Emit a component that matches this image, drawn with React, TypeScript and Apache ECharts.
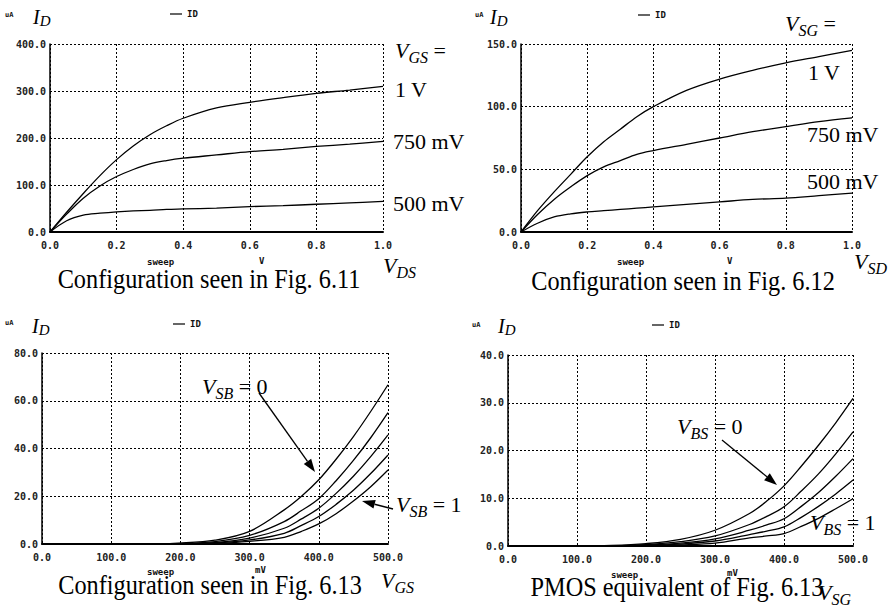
import React, { useEffect, useRef } from "react";
import * as echarts from "echarts";

// ---------- data ----------
const vdsSweep = [0, 0.05, 0.1, 0.15, 0.2, 0.25, 0.3, 0.35, 0.4, 0.5, 0.6, 0.7, 0.8, 0.9, 1.0];
const nmosId1V = [0, 42, 82, 120, 154, 183, 207, 226, 242, 264, 276, 286, 295, 302, 310];
const nmosId750 = [0, 38, 72, 98, 118, 133, 145, 152, 157, 164, 171, 176, 182, 187, 193];
const nmosId500 = [0, 24, 36, 40, 43, 45, 46, 48, 49, 51, 54, 56, 59, 62, 65];

const pmosId1V = [0, 17, 32, 46, 60, 72, 82, 92, 100, 113, 122, 129, 135, 140, 145];
const pmosId750 = [0, 14, 26, 36, 45, 52, 57, 62, 65, 70, 75, 80, 84, 88, 91];
const pmosId500 = [0, 7, 12, 14.5, 16, 17, 18, 19, 20, 22, 24, 26, 27, 29, 31];

const vgsSweep = [0, 100, 150, 200, 250, 300, 350, 375, 400, 425, 450, 475, 500];
const nmosVsb = [
  [0, 0, 0.1, 0.4, 1.6, 5.3, 14.3, 20, 26.9, 35.5, 45, 55.5, 66.7],
  [0, 0, 0.05, 0.2, 1.0, 3.6, 9.4, 14, 19, 26.5, 35, 44.5, 55],
  [0, 0, 0.03, 0.12, 0.6, 2.5, 6.6, 10.5, 15, 21.2, 28.4, 36.6, 45.7],
  [0, 0, 0.02, 0.08, 0.4, 1.7, 4.5, 7.8, 11.5, 16.6, 22.5, 29.5, 37.3],
  [0, 0, 0.01, 0.05, 0.25, 1.1, 2.8, 5.3, 8.4, 12.7, 18, 24, 31],
];
const pmosVbs = [
  [0, 0, 0.1, 0.5, 1.4, 3.3, 6.8, 9.4, 12.6, 16.7, 21.1, 25.8, 30.9],
  [0, 0, 0.05, 0.3, 0.9, 2.1, 4.5, 6.2, 8.2, 11.5, 15.1, 19.3, 23.9],
  [0, 0, 0.03, 0.2, 0.6, 1.5, 3.3, 4.4, 5.7, 8.3, 11.2, 14.6, 18.3],
  [0, 0, 0.02, 0.12, 0.4, 1.05, 2.4, 3.1, 4.0, 6.0, 8.3, 10.9, 13.8],
  [0, 0, 0.01, 0.08, 0.25, 0.6, 1.7, 2.1, 2.6, 4.1, 5.8, 7.8, 9.9],
];

const xRanges = [[0, 1, 0.2], [0, 1, 0.2], [0, 500, 100], [0, 500, 100]];
const yRanges = [[0, 400, 100], [0, 150, 50], [0, 80, 20], [0, 40, 10]];

const captions = [
  "Configuration seen in Fig. 6.11",
  "Configuration seen in Fig. 6.12",
  "Configuration seen in Fig. 6.13",
  "PMOS equivalent of Fig. 6.13",
];

// ---------- layout ----------
const grids = [
  { left: 50, top: 44, width: 333, height: 188 },
  { left: 521, top: 44, width: 331, height: 188 },
  { left: 42, top: 353, width: 346, height: 191 },
  { left: 508, top: 355, width: 345, height: 191 },
];

const SERIF = "Liberation Serif";
const MONO = "DejaVu Sans Mono";

let ctx: CanvasRenderingContext2D | null = null;
function measure(t: string, size: number, italic: boolean) {
  if (!ctx) ctx = document.createElement("canvas").getContext("2d");
  if (!ctx) return t.length * size * 0.5;
  ctx.font = `${italic ? "italic " : ""}${size}px "Liberation Serif"`;
  return ctx.measureText(t).width;
}

type Seg = [string, number, boolean, number];
function label(x: number, y: number, segs: Seg[]) {
  const out: any[] = [];
  let cx = x;
  segs.forEach(([t, size, italic, dy]) => {
    out.push({
      type: "text",
      x: cx,
      y: y + dy,
      silent: true,
      style: {
        text: t,
        fontFamily: SERIF,
        fontSize: size,
        fontStyle: italic ? "italic" : "normal",
        fill: "#000",
        align: "left",
        verticalAlign: "middle",
      },
    });
    cx += measure(t, size, italic);
  });
  return out;
}

function small(x: number, y: number, t: string, size = 8) {
  return {
    type: "text",
    x,
    y,
    silent: true,
    style: {
      text: t,
      fontFamily: MONO,
      fontSize: size,
      fontWeight: "bold",
      fill: "#111",
      align: "left",
      verticalAlign: "middle",
    },
  };
}

function legend(x: number, y: number) {
  return [
    { type: "line", silent: true, shape: { x1: x, y1: y, x2: x + 12, y2: y }, style: { stroke: "#000", lineWidth: 1.2 } },
    small(x + 17, y, "ID", 9),
  ];
}

function arrow(x1: number, y1: number, x2: number, y2: number) {
  const a = Math.atan2(y2 - y1, x2 - x1);
  const L = 13, W = 4.5;
  const bx = x2 - L * Math.cos(a), by = y2 - L * Math.sin(a);
  const nx = -Math.sin(a) * W, ny = Math.cos(a) * W;
  return [
    { type: "line", silent: true, shape: { x1, y1, x2: bx, y2: by }, style: { stroke: "#000", lineWidth: 1.3 } },
    {
      type: "polygon",
      silent: true,
      shape: { points: [[x2, y2], [bx + nx, by + ny], [bx - nx, by - ny]] },
      style: { fill: "#000" },
    },
  ];
}

function caption(cx: number, y: number, t: string) {
  return {
    type: "text",
    x: cx,
    y,
    scaleX: 0.9,
    silent: true,
    style: {
      text: t,
      fontFamily: SERIF,
      fontSize: 27,
      fill: "#000",
      align: "center",
      verticalAlign: "middle",
    },
  };
}

const V = 22, S = 16, D = 7;

export default function App() {
  const ref = useRef<HTMLDivElement>(null);
  useEffect(() => {
    document.body.style.margin = "0";
    if (!ref.current) return;
    const chart = echarts.init(ref.current, null, { renderer: "svg" });

    const fmt = (v: number) => v.toFixed(1);
    const xAxis = xRanges.map(([min, max, interval], i) => ({
      gridIndex: i,
      type: "value",
      min,
      max,
      interval,
      axisLine: { show: true, onZero: false, lineStyle: { color: "#000", width: 2 } },
      axisTick: { show: false },
      axisLabel: { formatter: fmt, fontFamily: MONO, fontSize: 10, fontWeight: "bold", color: "#222", margin: 8 },
      splitLine: { show: true, lineStyle: { color: "#000", type: [2, 2], width: 1 } },
    }));
    const yAxis = yRanges.map(([min, max, interval], i) => ({
      gridIndex: i,
      type: "value",
      min,
      max,
      interval,
      axisLine: { show: true, onZero: false, lineStyle: { color: "#000", width: 1.5 } },
      axisTick: { show: false },
      axisLabel: { formatter: fmt, fontFamily: MONO, fontSize: 10, fontWeight: "bold", color: "#222", margin: 4 },
      splitLine: { show: true, lineStyle: { color: "#000", type: [2, 2], width: 1 } },
    }));

    const line = (xs: number[], ys: number[], idx: number) => ({
      type: "line",
      xAxisIndex: idx,
      yAxisIndex: idx,
      data: xs.map((x, k) => [x, ys[k]]),
      showSymbol: false,
      smooth: 0.35,
      silent: true,
      lineStyle: { color: "#000", width: 1.3 },
    });

    const series = [
      line(vdsSweep, nmosId1V, 0),
      line(vdsSweep, nmosId750, 0),
      line(vdsSweep, nmosId500, 0),
      line(vdsSweep, pmosId1V, 1),
      line(vdsSweep, pmosId750, 1),
      line(vdsSweep, pmosId500, 1),
      ...nmosVsb.map((ys) => line(vgsSweep, ys, 2)),
      ...pmosVbs.map((ys) => line(vgsSweep, ys, 3)),
    ];

    const graphic: any[] = [
      // panel 1
      small(5, 15, "uA", 7),
      ...label(33, 17, [["I", 20, true, 0], ["D", 15, true, 4]]),
      ...legend(170, 14),
      ...label(395, 50, [["V", V, true, 0], ["GS", S, true, D], [" =", V, false, 0]]),
      ...label(395, 89, [["1 V", V, false, 0]]),
      ...label(393, 141, [["750 mV", V, false, 0]]),
      ...label(393, 203, [["500 mV", V, false, 0]]),
      small(147, 262, "sweep", 9),
      small(259, 261, "V", 9),
      ...label(383, 265, [["V", V, true, 0], ["DS", S, true, D]]),
      caption(209, 279, captions[0]),
      // panel 2
      small(475, 15, "uA", 7),
      ...label(490, 17, [["I", 20, true, 0], ["D", 15, true, 4]]),
      ...legend(638, 15),
      ...label(785, 23, [["V", V, true, 0], ["SG", S, true, D], [" =", V, false, 0]]),
      ...label(808, 72, [["1 V", V, false, 0]]),
      ...label(807, 134, [["750 mV", V, false, 0]]),
      ...label(807, 181, [["500 mV", V, false, 0]]),
      small(617, 262, "sweep", 9),
      small(727, 261, "V", 9),
      ...label(854, 261, [["V", V, true, 0], ["SD", S, true, D]]),
      caption(683, 281, captions[1]),
      // panel 3
      small(5, 323, "uA", 7),
      ...label(32, 326, [["I", 20, true, 0], ["D", 15, true, 4]]),
      ...legend(173, 324),
      ...label(202, 386, [["V", V, true, 0], ["SB", S, true, D], [" = 0", V, false, 0]]),
      ...arrow(259, 393, 315, 472),
      ...label(396, 504, [["V", V, true, 0], ["SB", S, true, D], [" = 1", V, false, 0]]),
      ...arrow(393, 509, 362, 501),
      small(147, 572, "sweep", 9),
      small(255, 570, "mV", 9),
      ...label(381, 580, [["V", V, true, 0], ["GS", S, true, D]]),
      caption(210, 585, captions[2]),
      // panel 4
      small(472, 325, "uA", 7),
      ...label(498, 326, [["I", 20, true, 0], ["D", 15, true, 4]]),
      ...legend(652, 325),
      ...label(677, 426, [["V", V, true, 0], ["BS", S, true, D], [" = 0", V, false, 0]]),
      ...arrow(722, 440, 777, 485),
      ...label(810, 522, [["V", V, true, 0], ["BS", S, true, D], [" = 1", V, false, 0]]),
      small(611, 575, "sweep", 9),
      small(727, 573, "mV", 9),
      ...label(818, 592, [["V", V, true, 0], ["SG", S, true, D]]),
      caption(677, 587, captions[3]),
    ];

    chart.setOption({
      animation: false,
      backgroundColor: "#fff",
      grid: grids,
      xAxis,
      yAxis,
      series,
      graphic,
    });
    return () => chart.dispose();
  }, []);
  return <div ref={ref} style={{ width: 893, height: 608 }} />;
}
